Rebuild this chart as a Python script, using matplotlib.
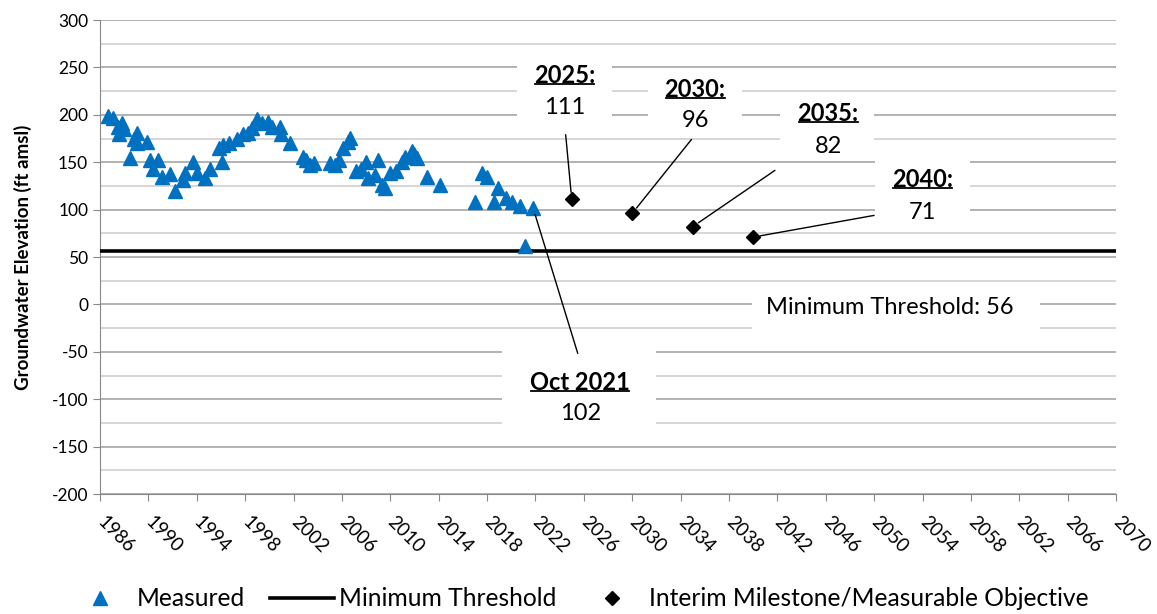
import matplotlib
matplotlib.use("Agg")
import matplotlib.pyplot as plt
from matplotlib.patches import Rectangle
from matplotlib.lines import Line2D
import numpy as np

plt.rcParams['font.family'] = ['Lato', 'DejaVu Sans']
plt.rcParams['axes.unicode_minus'] = False

# measured groundwater elevations (decimal year, ft amsl)
meas_year = [1986.7, 1987.1, 1987.5, 1987.8, 1987.6, 1988.0, 1988.5, 1989.1, 1988.8, 1989.1,
             1989.9, 1990.1, 1990.4, 1990.8, 1991.1, 1991.8, 1992.2, 1992.9, 1993.0, 1993.7,
             1994.0, 1994.7, 1995.1, 1995.8, 1996.1, 1996.2, 1996.7, 1997.3, 1997.8, 1998.2,
             1998.6, 1999.0, 1999.4, 1999.9, 2000.2, 2000.9, 2001.0, 2001.7, 2002.8, 2003.0,
             2003.4, 2003.7, 2005.0, 2005.4, 2005.8, 2006.1, 2006.5, 2006.7, 2007.2, 2007.6,
             2008.0, 2008.2, 2008.7, 2009.0, 2009.3, 2009.6, 2010.0, 2010.5, 2011.0, 2011.2,
             2011.8, 2012.0, 2012.2, 2013.0, 2014.1, 2017.0, 2017.6, 2018.0, 2018.6, 2018.9,
             2019.6, 2020.1, 2020.7, 2021.1, 2021.8]
meas_elev = [199, 197, 187, 191, 180, 185, 154, 181, 175, 170,
             171, 152, 143, 152, 134, 138, 120, 131, 139, 150,
             139, 133, 143, 165, 150, 168, 170, 175, 180, 181,
             186, 196, 191, 192, 187, 187, 180, 170, 155, 152,
             147, 149, 149, 147, 152, 165, 171, 176, 141, 143,
             150, 133, 136, 152, 126, 123, 139, 141, 150, 155,
             162, 159, 154, 134, 126, 108, 139, 134, 108, 123,
             112, 108, 104, 62, 102]

min_threshold = 56

mile_year = [2025, 2030, 2035, 2040]
mile_elev = [111, 96, 82, 71]
mile_label = ["2025:", "2030:", "2035:", "2040:"]

xtick_years = list(range(1986, 2071, 4))

blue = '#0070C0'

fig = plt.figure(figsize=(11.57, 6.14), dpi=100)
ax = fig.add_axes([0.0864, 0.1954, 0.8782, 0.772])

ax.set_xlim(1986, 2070)
ax.set_ylim(-200, 300)
ax.set_xticks(xtick_years)
ax.set_xticklabels([str(y) for y in xtick_years], rotation=-45, ha='left', va='center',
                   rotation_mode='anchor', fontsize=13.5)
ax.set_yticks(np.arange(-200, 301, 50))
ax.tick_params(axis='y', labelsize=12.5, length=5, color='#888888')
ax.tick_params(axis='x', length=5, color='#888888', pad=13)

# gridlines: darker every 50, lighter in between
for y in np.arange(-200, 301, 50):
    ax.axhline(y, color='#a6a6a6', lw=1.2, zorder=0)
for y in np.arange(-175, 300, 50):
    ax.axhline(y, color='#d0d0d0', lw=1.2, zorder=0)

for s in ['top', 'right']:
    ax.spines[s].set_visible(False)
for s in ['left', 'bottom']:
    ax.spines[s].set_color('#888888')

ax.set_ylabel('Groundwater Elevation (ft amsl)', fontsize=13.5, fontweight='bold', labelpad=14)

ax.plot(meas_year, meas_elev, '^', color=blue, ms=10, ls='none', zorder=4, label='Measured')
ax.axhline(min_threshold, color='black', lw=2.6, zorder=3, label='Minimum Threshold')
ax.plot(mile_year, mile_elev, 'D', color='black', ms=7, ls='none', zorder=4,
        label='Interim Milestone/Measurable Objective')

# label boxes: (x0, x1, y0, y1) in data units
boxes = [(2020.5, 2028.3, 184, 268),
         (2031.3, 2039.1, 178, 241),
         (2042.2, 2050.0, 156, 217),
         (2050.1, 2057.9, 80, 157),
         (2019.2, 2032.0, -149, -48),
         (2039.9, 2063.7, -27, 22)]
for x0, x1, y0, y1 in boxes:
    ax.add_patch(Rectangle((x0, y0), x1 - x0, y1 - y0, facecolor='white',
                           edgecolor='none', zorder=1))

head_pos = [(2024.4, 241.6), (2035.2, 226.8), (2046.2, 201.5), (2054.0, 131.9)]
val_pos = [(2024.4, 207.8), (2035.2, 194), (2046.2, 166.7), (2054.0, 97)]
line_start = [(2024.5, 179), (2034.9, 174), (2041.8, 141.4), (2050.0, 93.9)]

heads = []
for i in range(len(mile_year)):
    t = ax.text(head_pos[i][0], head_pos[i][1], mile_label[i], ha='center', va='center',
                fontsize=17, fontweight='bold', zorder=5)
    heads.append(t)
    ax.text(val_pos[i][0], val_pos[i][1], str(mile_elev[i]), ha='center', va='center',
            fontsize=17, zorder=5)
    ax.annotate('', xy=(mile_year[i], mile_elev[i]), xytext=line_start[i],
                arrowprops=dict(arrowstyle='-', lw=1, color='black', shrinkA=0, shrinkB=5),
                zorder=5)

t = ax.text(2025.7, -82.3, 'Oct 2021', ha='center', va='center', fontsize=17,
            fontweight='bold', zorder=5)
heads.append(t)
ax.text(2025.7, -115, str(meas_elev[-1]), ha='center', va='center', fontsize=17, zorder=5)
ax.annotate('', xy=(meas_year[-1], meas_elev[-1]), xytext=(2025.5, -51.7),
            arrowprops=dict(arrowstyle='-', lw=1, color='black', shrinkA=0, shrinkB=5),
            zorder=5)

ax.text(2051.3, -3.2, 'Minimum Threshold: %d' % min_threshold, ha='center', va='center',
        fontsize=17, zorder=5)

handles = [Line2D([], [], marker='^', color=blue, ls='none', ms=10),
           Line2D([], [], color='black', lw=2.6),
           Line2D([], [], marker='D', color='black', ls='none', ms=7)]
labels = ['Measured', 'Minimum Threshold', 'Interim Milestone/Measurable Objective']
fig.legend(handles, labels, loc='lower center', bbox_to_anchor=(0.5, -0.03), ncol=3,
           frameon=False, fontsize=17.7, handlelength=2.6, columnspacing=1.0,
           handletextpad=0.2)

# underline the bold headings
fig.canvas.draw()
r = fig.canvas.get_renderer()
inv = fig.transFigure.inverted()
for t in heads:
    bb = t.get_window_extent(r)
    (x0, y0), (x1, _) = inv.transform([(bb.x0 + 1, bb.y0 + 3), (bb.x1 - 1, bb.y0 + 3)])
    fig.add_artist(Line2D([x0, x1], [y0, y0], color='black', lw=1.3, transform=fig.transFigure))

fig.savefig('out.png', dpi=100)
